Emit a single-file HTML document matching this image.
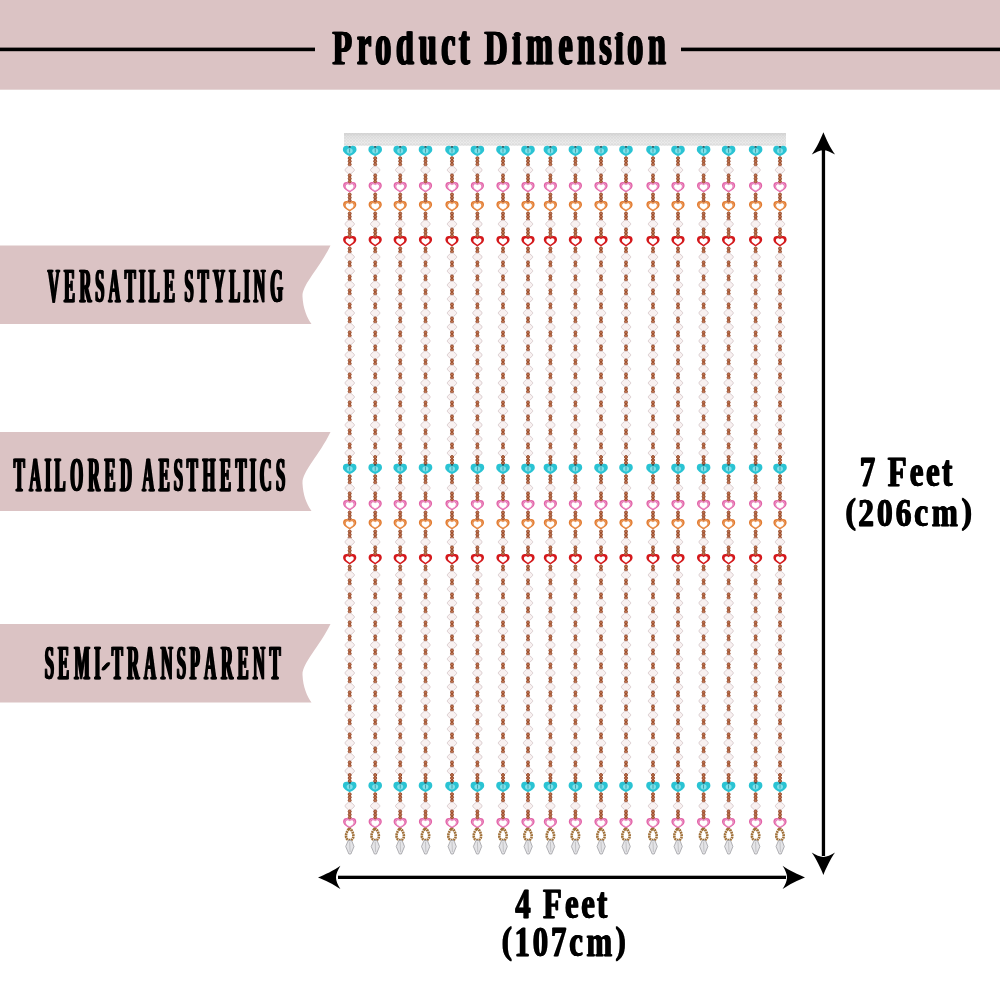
<!DOCTYPE html>
<html><head><meta charset="utf-8"><title>Product Dimension</title>
<style>html,body{margin:0;padding:0;background:#fff;width:1000px;height:1000px;overflow:hidden}svg{display:block;will-change:transform}</style>
</head><body>
<svg width="1000" height="1000" viewBox="0 0 1000 1000">
<rect width="1000" height="1000" fill="#fff"/>
<rect x="0" y="0" width="1000" height="89.7" fill="#dbc3c4"/>
<rect x="0" y="47.6" width="315" height="3.6" fill="#000"/>
<rect x="681" y="47.6" width="319" height="3.6" fill="#000"/>
<clipPath id="tc1"><rect x="312.4" y="31.40" width="372.1" height="62.0"/></clipPath><g clip-path="url(#tc1)"><g fill="#000" font-family="Liberation Serif, serif" font-weight="700" font-size="100" stroke="#000" stroke-width="0.614" stroke-linejoin="miter"><g id="tg1"><text x="0" y="0" text-anchor="middle" transform="matrix(0.3199 0 0 0.4887 341.62 64.00)">P</text><text x="0" y="0" text-anchor="middle" transform="matrix(0.3199 0 0 0.5883 363.26 64.00)">r</text><text x="0" y="0" text-anchor="middle" transform="matrix(0.3199 0 0 0.5883 382.61 64.00)">o</text><text x="0" y="0" text-anchor="middle" transform="matrix(0.3199 0 0 0.5883 404.27 64.00)">d</text><text x="0" y="0" text-anchor="middle" transform="matrix(0.3199 0 0 0.5883 427.09 64.00)">u</text><text x="0" y="0" text-anchor="middle" transform="matrix(0.3199 0 0 0.5883 447.59 64.00)">c</text><text x="0" y="0" text-anchor="middle" transform="matrix(0.3199 0 0 0.5883 463.53 64.00)">t</text><text x="0" y="0" text-anchor="middle" transform="matrix(0.3199 0 0 0.4887 495.42 64.00)">D</text><ellipse cx="516.53" cy="34.60" rx="2.60" ry="2.00"/><text x="0" y="0" text-anchor="middle" transform="matrix(0.3199 0 0 0.5883 515.93 64.00)">ı</text><text x="0" y="0" text-anchor="middle" transform="matrix(0.3199 0 0 0.5883 538.71 64.00)">m</text><text x="0" y="0" text-anchor="middle" transform="matrix(0.3199 0 0 0.5883 564.90 64.00)">e</text><text x="0" y="0" text-anchor="middle" transform="matrix(0.3199 0 0 0.5883 585.41 64.00)">n</text><text x="0" y="0" text-anchor="middle" transform="matrix(0.3199 0 0 0.5883 604.80 64.00)">s</text><ellipse cx="619.07" cy="34.60" rx="2.60" ry="2.00"/><text x="0" y="0" text-anchor="middle" transform="matrix(0.3199 0 0 0.5883 618.47 64.00)">ı</text><text x="0" y="0" text-anchor="middle" transform="matrix(0.3199 0 0 0.5883 634.43 64.00)">o</text><text x="0" y="0" text-anchor="middle" transform="matrix(0.3199 0 0 0.5883 656.09 64.00)">n</text></g><use href="#tg1" x="0.50"/><use href="#tg1" x="1.00"/><use href="#tg1" x="1.50"/></g></g>
<path d="M0,245.4 L330.5,245.4 C319,269.0 302,284.7 302.5,296.5 C303,308.3 307,317.7 311.5,324.0 L0,324.0 Z" fill="#dbc3c4"/>
<clipPath id="tc2"><rect x="27.2" y="269.50" width="274.5" height="62.3"/></clipPath><g clip-path="url(#tc2)"><g fill="#000" font-family="Liberation Serif, serif" font-weight="700" font-size="100" stroke="#000" stroke-width="0.608" stroke-linejoin="miter"><g id="tg2"><text x="0" y="0" text-anchor="middle" transform="matrix(0.1640 0 0 0.4933 52.94 302.40)">V</text><text x="0" y="0" text-anchor="middle" transform="matrix(0.1640 0 0 0.4933 68.76 302.40)">E</text><text x="0" y="0" text-anchor="middle" transform="matrix(0.1640 0 0 0.4933 84.59 302.40)">R</text><text x="0" y="0" text-anchor="middle" transform="matrix(0.1640 0 0 0.4933 99.15 302.40)">S</text><text x="0" y="0" text-anchor="middle" transform="matrix(0.1640 0 0 0.4933 113.71 302.40)">A</text><text x="0" y="0" text-anchor="middle" transform="matrix(0.1640 0 0 0.4933 129.53 302.40)">T</text><text x="0" y="0" text-anchor="middle" transform="matrix(0.1640 0 0 0.4933 141.56 302.40)">I</text><text x="0" y="0" text-anchor="middle" transform="matrix(0.1640 0 0 0.4933 153.59 302.40)">L</text><text x="0" y="0" text-anchor="middle" transform="matrix(0.1640 0 0 0.4933 168.79 302.40)">E</text><text x="0" y="0" text-anchor="middle" transform="matrix(0.1640 0 0 0.4933 188.41 302.40)">S</text><text x="0" y="0" text-anchor="middle" transform="matrix(0.1640 0 0 0.4933 202.35 302.40)">T</text><text x="0" y="0" text-anchor="middle" transform="matrix(0.1640 0 0 0.4933 218.17 302.40)">Y</text><text x="0" y="0" text-anchor="middle" transform="matrix(0.1640 0 0 0.4933 233.99 302.40)">L</text><text x="0" y="0" text-anchor="middle" transform="matrix(0.1640 0 0 0.4933 246.02 302.40)">I</text><text x="0" y="0" text-anchor="middle" transform="matrix(0.1640 0 0 0.4933 258.68 302.40)">N</text><text x="0" y="0" text-anchor="middle" transform="matrix(0.1640 0 0 0.4933 275.77 302.40)">G</text></g><use href="#tg2" x="0.50"/><use href="#tg2" x="1.00"/><use href="#tg2" x="1.50"/></g></g>
<path d="M0,432.0 L330.5,432.0 C319,455.7 302,471.5 302.5,483.4 C303,495.2 307,504.7 311.5,511.0 L0,511.0 Z" fill="#dbc3c4"/>
<clipPath id="tc3"><rect x="-6.8" y="458.10" width="310.5" height="62.3"/></clipPath><g clip-path="url(#tc3)"><g fill="#000" font-family="Liberation Serif, serif" font-weight="700" font-size="100" stroke="#000" stroke-width="0.608" stroke-linejoin="miter"><g id="tg3"><text x="0" y="0" text-anchor="middle" transform="matrix(0.1656 0 0 0.4933 18.46 491.00)">T</text><text x="0" y="0" text-anchor="middle" transform="matrix(0.1656 0 0 0.4933 34.44 491.00)">A</text><text x="0" y="0" text-anchor="middle" transform="matrix(0.1656 0 0 0.4933 47.21 491.00)">I</text><text x="0" y="0" text-anchor="middle" transform="matrix(0.1656 0 0 0.4933 59.36 491.00)">L</text><text x="0" y="0" text-anchor="middle" transform="matrix(0.1656 0 0 0.4933 75.97 491.00)">O</text><text x="0" y="0" text-anchor="middle" transform="matrix(0.1656 0 0 0.4933 93.22 491.00)">R</text><text x="0" y="0" text-anchor="middle" transform="matrix(0.1656 0 0 0.4933 109.19 491.00)">E</text><text x="0" y="0" text-anchor="middle" transform="matrix(0.1656 0 0 0.4933 125.16 491.00)">D</text><text x="0" y="0" text-anchor="middle" transform="matrix(0.1656 0 0 0.4933 147.52 491.00)">A</text><text x="0" y="0" text-anchor="middle" transform="matrix(0.1656 0 0 0.4933 163.49 491.00)">E</text><text x="0" y="0" text-anchor="middle" transform="matrix(0.1656 0 0 0.4933 177.55 491.00)">S</text><text x="0" y="0" text-anchor="middle" transform="matrix(0.1656 0 0 0.4933 191.62 491.00)">T</text><text x="0" y="0" text-anchor="middle" transform="matrix(0.1656 0 0 0.4933 208.23 491.00)">H</text><text x="0" y="0" text-anchor="middle" transform="matrix(0.1656 0 0 0.4933 224.84 491.00)">E</text><text x="0" y="0" text-anchor="middle" transform="matrix(0.1656 0 0 0.4933 240.18 491.00)">T</text><text x="0" y="0" text-anchor="middle" transform="matrix(0.1656 0 0 0.4933 252.32 491.00)">I</text><text x="0" y="0" text-anchor="middle" transform="matrix(0.1656 0 0 0.4933 265.10 491.00)">C</text><text x="0" y="0" text-anchor="middle" transform="matrix(0.1656 0 0 0.4933 279.80 491.00)">S</text></g><use href="#tg3" x="0.50"/><use href="#tg3" x="1.00"/><use href="#tg3" x="1.50"/></g></g>
<path d="M0,624.0 L330.5,624.0 C319,647.5 302,663.2 302.5,675.0 C303,686.8 307,696.2 311.5,702.5 L0,702.5 Z" fill="#dbc3c4"/>
<clipPath id="tc4"><rect x="24.8" y="646.50" width="274.9" height="62.3"/></clipPath><g clip-path="url(#tc4)"><g fill="#000" font-family="Liberation Serif, serif" font-weight="700" font-size="100" stroke="#000" stroke-width="0.608" stroke-linejoin="miter"><g id="tg4"><text x="0" y="0" text-anchor="middle" transform="matrix(0.1663 0 0 0.4933 48.54 679.40)">S</text><text x="0" y="0" text-anchor="middle" transform="matrix(0.1663 0 0 0.4933 62.67 679.40)">E</text><text x="0" y="0" text-anchor="middle" transform="matrix(0.1663 0 0 0.4933 81.27 679.40)">M</text><text x="0" y="0" text-anchor="middle" transform="matrix(0.1663 0 0 0.4933 96.66 679.40)">I</text><path d="M102.4,667.8 L106.6,663.2 L108.4,662.8 L107.6,665.2 L103.6,669.6 L101.8,670 Z"/><text x="0" y="0" text-anchor="middle" transform="matrix(0.1663 0 0 0.4933 116.55 679.40)">T</text><text x="0" y="0" text-anchor="middle" transform="matrix(0.1663 0 0 0.4933 132.60 679.40)">R</text><text x="0" y="0" text-anchor="middle" transform="matrix(0.1663 0 0 0.4933 149.28 679.40)">A</text><text x="0" y="0" text-anchor="middle" transform="matrix(0.1663 0 0 0.4933 165.96 679.40)">N</text><text x="0" y="0" text-anchor="middle" transform="matrix(0.1663 0 0 0.4933 180.72 679.40)">S</text><text x="0" y="0" text-anchor="middle" transform="matrix(0.1663 0 0 0.4933 194.20 679.40)">P</text><text x="0" y="0" text-anchor="middle" transform="matrix(0.1663 0 0 0.4933 209.59 679.40)">A</text><text x="0" y="0" text-anchor="middle" transform="matrix(0.1663 0 0 0.4933 226.28 679.40)">R</text><text x="0" y="0" text-anchor="middle" transform="matrix(0.1663 0 0 0.4933 242.32 679.40)">E</text><text x="0" y="0" text-anchor="middle" transform="matrix(0.1663 0 0 0.4933 258.36 679.40)">N</text><text x="0" y="0" text-anchor="middle" transform="matrix(0.1663 0 0 0.4933 274.41 679.40)">T</text></g><use href="#tg4" x="0.50"/><use href="#tg4" x="1.00"/><use href="#tg4" x="1.50"/></g></g>
<defs><linearGradient id="bar" x1="0" y1="0" x2="0" y2="1"><stop offset="0" stop-color="#d4d4d4"/><stop offset="0.3" stop-color="#e3e3e3"/><stop offset="0.8" stop-color="#ebebeb"/><stop offset="1" stop-color="#e0e0e0"/></linearGradient></defs>
<defs><pattern id="net" width="3" height="3" patternUnits="userSpaceOnUse"><path d="M0,0 L3,3 M3,0 L0,3" stroke="#c8c8c8" stroke-width="0.5" opacity="0.45"/></pattern></defs>
<rect x="344" y="133" width="442" height="12.6" fill="url(#bar)"/>
<rect x="344" y="133" width="442" height="12.6" fill="url(#net)"/>
<defs><g id="cr"><path d="M-1.3,-3.7 L1.3,-3.7 L4.6,-0.7 L4.6,0.7 L1.3,3.7 L-1.3,3.7 L-4.6,0.7 L-4.6,-0.7 Z" fill="#f8f1f1" stroke="#d8cacc" stroke-width="0.9"/></g><g id="hc"><path d="M0,-3.6 C-1.8,-6 -6.8,-5.8 -6.8,-1.6 C-6.8,1.6 -3.2,3.4 0,5.2 C3.2,3.4 6.8,1.6 6.8,-1.6 C6.8,-5.8 1.8,-6 0,-3.6 Z" fill="#2ac3d3"/><ellipse cx="0" cy="-0.2" rx="3" ry="2.6" fill="#7fe0ea"/><rect x="-0.4" y="-2.4" width="0.8" height="4" fill="#3b8f98"/><ellipse cx="0" cy="-4.2" rx="1.3" ry="0.9" fill="#2a4f55"/></g><g id="hp"><path d="M0,-3.4 C-1.5,-5.8 -6.6,-5.9 -6.6,-1.5 C-6.6,1.8 -2.9,3.6 0,5.4 C2.9,3.6 6.6,1.8 6.6,-1.5 C6.6,-5.9 1.5,-5.8 0,-3.4 Z" fill="#e264a8"/><path d="M0,-3.4 C-1.5,-5.8 -6.6,-5.9 -6.6,-1.5 C-6.6,1.8 -2.9,3.6 0,5.4 C2.9,3.6 6.6,1.8 6.6,-1.5 C6.6,-5.9 1.5,-5.8 0,-3.4 Z" transform="scale(0.74)" fill="none" stroke="#f7c4e3" stroke-width="0.7"/><path d="M0,-3.4 C-1.5,-5.8 -6.6,-5.9 -6.6,-1.5 C-6.6,1.8 -2.9,3.6 0,5.4 C2.9,3.6 6.6,1.8 6.6,-1.5 C6.6,-5.9 1.5,-5.8 0,-3.4 Z" transform="translate(0,0.3) scale(0.6)" fill="#fff"/></g><g id="ho"><path d="M0,-3.4 C-1.5,-5.8 -6.6,-5.9 -6.6,-1.5 C-6.6,1.8 -2.9,3.6 0,5.4 C2.9,3.6 6.6,1.8 6.6,-1.5 C6.6,-5.9 1.5,-5.8 0,-3.4 Z" fill="#e27b30"/><path d="M0,-3.4 C-1.5,-5.8 -6.6,-5.9 -6.6,-1.5 C-6.6,1.8 -2.9,3.6 0,5.4 C2.9,3.6 6.6,1.8 6.6,-1.5 C6.6,-5.9 1.5,-5.8 0,-3.4 Z" transform="scale(0.74)" fill="none" stroke="#f6c79c" stroke-width="0.6"/><path d="M0,-3.4 C-1.5,-5.8 -6.6,-5.9 -6.6,-1.5 C-6.6,1.8 -2.9,3.6 0,5.4 C2.9,3.6 6.6,1.8 6.6,-1.5 C6.6,-5.9 1.5,-5.8 0,-3.4 Z" transform="translate(0,0.3) scale(0.6)" fill="#fff"/></g><g id="hr"><path d="M0,-3.4 C-1.5,-5.8 -6.6,-5.9 -6.6,-1.5 C-6.6,1.8 -2.9,3.6 0,5.4 C2.9,3.6 6.6,1.8 6.6,-1.5 C6.6,-5.9 1.5,-5.8 0,-3.4 Z" fill="#d4191c"/><path d="M0,-3.4 C-1.5,-5.8 -6.6,-5.9 -6.6,-1.5 C-6.6,1.8 -2.9,3.6 0,5.4 C2.9,3.6 6.6,1.8 6.6,-1.5 C6.6,-5.9 1.5,-5.8 0,-3.4 Z" transform="translate(0,0.3) scale(0.62)" fill="#fff"/></g><g id="strand"><use href="#hc" y="151.00"/><circle cx="0" cy="158.20" r="1.5" fill="#c27650" stroke="#8e4020" stroke-width="0.9"/><circle cx="0" cy="161.30" r="1.5" fill="#c27650" stroke="#8e4020" stroke-width="0.9"/><circle cx="0" cy="164.40" r="1.5" fill="#c27650" stroke="#8e4020" stroke-width="0.9"/><use href="#cr" y="170.00"/><circle cx="0" cy="175.50" r="1.5" fill="#c27650" stroke="#8e4020" stroke-width="0.9"/><circle cx="0" cy="178.60" r="1.5" fill="#c27650" stroke="#8e4020" stroke-width="0.9"/><circle cx="0" cy="181.70" r="1.5" fill="#c27650" stroke="#8e4020" stroke-width="0.9"/><use href="#hp" y="187.00"/><circle cx="0" cy="194.50" r="1.5" fill="#c27650" stroke="#8e4020" stroke-width="0.9"/><circle cx="0" cy="197.60" r="1.5" fill="#c27650" stroke="#8e4020" stroke-width="0.9"/><circle cx="0" cy="200.70" r="1.5" fill="#c27650" stroke="#8e4020" stroke-width="0.9"/><use href="#ho" y="206.00"/><circle cx="0" cy="213.50" r="1.5" fill="#c27650" stroke="#8e4020" stroke-width="0.9"/><circle cx="0" cy="216.60" r="1.5" fill="#c27650" stroke="#8e4020" stroke-width="0.9"/><circle cx="0" cy="219.70" r="1.5" fill="#c27650" stroke="#8e4020" stroke-width="0.9"/><use href="#cr" y="224.00"/><circle cx="0" cy="229.50" r="1.5" fill="#c27650" stroke="#8e4020" stroke-width="0.9"/><circle cx="0" cy="232.60" r="1.5" fill="#c27650" stroke="#8e4020" stroke-width="0.9"/><circle cx="0" cy="235.70" r="1.5" fill="#c27650" stroke="#8e4020" stroke-width="0.9"/><use href="#hr" y="241.00"/><circle cx="0" cy="248.50" r="1.5" fill="#c27650" stroke="#8e4020" stroke-width="0.9"/><circle cx="0" cy="251.60" r="1.5" fill="#c27650" stroke="#8e4020" stroke-width="0.9"/><use href="#cr" y="257.00"/><circle cx="0" cy="262.50" r="1.5" fill="#c27650" stroke="#8e4020" stroke-width="0.9"/><circle cx="0" cy="265.60" r="1.5" fill="#c27650" stroke="#8e4020" stroke-width="0.9"/><use href="#cr" y="271.00"/><circle cx="0" cy="276.50" r="1.5" fill="#c27650" stroke="#8e4020" stroke-width="0.9"/><circle cx="0" cy="279.60" r="1.5" fill="#c27650" stroke="#8e4020" stroke-width="0.9"/><use href="#cr" y="285.00"/><circle cx="0" cy="290.50" r="1.5" fill="#c27650" stroke="#8e4020" stroke-width="0.9"/><circle cx="0" cy="293.60" r="1.5" fill="#c27650" stroke="#8e4020" stroke-width="0.9"/><use href="#cr" y="299.00"/><circle cx="0" cy="304.50" r="1.5" fill="#c27650" stroke="#8e4020" stroke-width="0.9"/><circle cx="0" cy="307.60" r="1.5" fill="#c27650" stroke="#8e4020" stroke-width="0.9"/><use href="#cr" y="313.00"/><circle cx="0" cy="318.50" r="1.5" fill="#c27650" stroke="#8e4020" stroke-width="0.9"/><circle cx="0" cy="321.60" r="1.5" fill="#c27650" stroke="#8e4020" stroke-width="0.9"/><use href="#cr" y="327.00"/><circle cx="0" cy="332.50" r="1.5" fill="#c27650" stroke="#8e4020" stroke-width="0.9"/><circle cx="0" cy="335.60" r="1.5" fill="#c27650" stroke="#8e4020" stroke-width="0.9"/><use href="#cr" y="341.00"/><circle cx="0" cy="346.50" r="1.5" fill="#c27650" stroke="#8e4020" stroke-width="0.9"/><circle cx="0" cy="349.60" r="1.5" fill="#c27650" stroke="#8e4020" stroke-width="0.9"/><use href="#cr" y="355.00"/><circle cx="0" cy="360.50" r="1.5" fill="#c27650" stroke="#8e4020" stroke-width="0.9"/><circle cx="0" cy="363.60" r="1.5" fill="#c27650" stroke="#8e4020" stroke-width="0.9"/><use href="#cr" y="369.00"/><circle cx="0" cy="374.50" r="1.5" fill="#c27650" stroke="#8e4020" stroke-width="0.9"/><circle cx="0" cy="377.60" r="1.5" fill="#c27650" stroke="#8e4020" stroke-width="0.9"/><use href="#cr" y="383.00"/><circle cx="0" cy="388.50" r="1.5" fill="#c27650" stroke="#8e4020" stroke-width="0.9"/><circle cx="0" cy="391.60" r="1.5" fill="#c27650" stroke="#8e4020" stroke-width="0.9"/><use href="#cr" y="397.00"/><circle cx="0" cy="402.50" r="1.5" fill="#c27650" stroke="#8e4020" stroke-width="0.9"/><circle cx="0" cy="405.60" r="1.5" fill="#c27650" stroke="#8e4020" stroke-width="0.9"/><use href="#cr" y="411.00"/><circle cx="0" cy="416.50" r="1.5" fill="#c27650" stroke="#8e4020" stroke-width="0.9"/><circle cx="0" cy="419.60" r="1.5" fill="#c27650" stroke="#8e4020" stroke-width="0.9"/><use href="#cr" y="425.00"/><circle cx="0" cy="430.50" r="1.5" fill="#c27650" stroke="#8e4020" stroke-width="0.9"/><circle cx="0" cy="433.60" r="1.5" fill="#c27650" stroke="#8e4020" stroke-width="0.9"/><use href="#cr" y="439.00"/><circle cx="0" cy="444.50" r="1.5" fill="#c27650" stroke="#8e4020" stroke-width="0.9"/><circle cx="0" cy="447.60" r="1.5" fill="#c27650" stroke="#8e4020" stroke-width="0.9"/><use href="#cr" y="453.00"/><circle cx="0" cy="457.00" r="1.5" fill="#c27650" stroke="#8e4020" stroke-width="0.9"/><circle cx="0" cy="460.10" r="1.5" fill="#c27650" stroke="#8e4020" stroke-width="0.9"/><circle cx="0" cy="463.20" r="1.5" fill="#c27650" stroke="#8e4020" stroke-width="0.9"/><use href="#hc" y="469.00"/><circle cx="0" cy="476.20" r="1.5" fill="#c27650" stroke="#8e4020" stroke-width="0.9"/><circle cx="0" cy="479.30" r="1.5" fill="#c27650" stroke="#8e4020" stroke-width="0.9"/><circle cx="0" cy="482.40" r="1.5" fill="#c27650" stroke="#8e4020" stroke-width="0.9"/><use href="#cr" y="488.00"/><circle cx="0" cy="493.50" r="1.5" fill="#c27650" stroke="#8e4020" stroke-width="0.9"/><circle cx="0" cy="496.60" r="1.5" fill="#c27650" stroke="#8e4020" stroke-width="0.9"/><circle cx="0" cy="499.70" r="1.5" fill="#c27650" stroke="#8e4020" stroke-width="0.9"/><use href="#hp" y="505.00"/><circle cx="0" cy="512.50" r="1.5" fill="#c27650" stroke="#8e4020" stroke-width="0.9"/><circle cx="0" cy="515.60" r="1.5" fill="#c27650" stroke="#8e4020" stroke-width="0.9"/><circle cx="0" cy="518.70" r="1.5" fill="#c27650" stroke="#8e4020" stroke-width="0.9"/><use href="#ho" y="524.00"/><circle cx="0" cy="531.50" r="1.5" fill="#c27650" stroke="#8e4020" stroke-width="0.9"/><circle cx="0" cy="534.60" r="1.5" fill="#c27650" stroke="#8e4020" stroke-width="0.9"/><circle cx="0" cy="537.70" r="1.5" fill="#c27650" stroke="#8e4020" stroke-width="0.9"/><use href="#cr" y="542.00"/><circle cx="0" cy="547.50" r="1.5" fill="#c27650" stroke="#8e4020" stroke-width="0.9"/><circle cx="0" cy="550.60" r="1.5" fill="#c27650" stroke="#8e4020" stroke-width="0.9"/><circle cx="0" cy="553.70" r="1.5" fill="#c27650" stroke="#8e4020" stroke-width="0.9"/><use href="#hr" y="559.00"/><circle cx="0" cy="566.50" r="1.5" fill="#c27650" stroke="#8e4020" stroke-width="0.9"/><circle cx="0" cy="569.60" r="1.5" fill="#c27650" stroke="#8e4020" stroke-width="0.9"/><use href="#cr" y="575.00"/><circle cx="0" cy="580.50" r="1.5" fill="#c27650" stroke="#8e4020" stroke-width="0.9"/><circle cx="0" cy="583.60" r="1.5" fill="#c27650" stroke="#8e4020" stroke-width="0.9"/><use href="#cr" y="589.00"/><circle cx="0" cy="594.50" r="1.5" fill="#c27650" stroke="#8e4020" stroke-width="0.9"/><circle cx="0" cy="597.60" r="1.5" fill="#c27650" stroke="#8e4020" stroke-width="0.9"/><use href="#cr" y="603.00"/><circle cx="0" cy="608.50" r="1.5" fill="#c27650" stroke="#8e4020" stroke-width="0.9"/><circle cx="0" cy="611.60" r="1.5" fill="#c27650" stroke="#8e4020" stroke-width="0.9"/><use href="#cr" y="617.00"/><circle cx="0" cy="622.50" r="1.5" fill="#c27650" stroke="#8e4020" stroke-width="0.9"/><circle cx="0" cy="625.60" r="1.5" fill="#c27650" stroke="#8e4020" stroke-width="0.9"/><use href="#cr" y="631.00"/><circle cx="0" cy="636.50" r="1.5" fill="#c27650" stroke="#8e4020" stroke-width="0.9"/><circle cx="0" cy="639.60" r="1.5" fill="#c27650" stroke="#8e4020" stroke-width="0.9"/><use href="#cr" y="645.00"/><circle cx="0" cy="650.50" r="1.5" fill="#c27650" stroke="#8e4020" stroke-width="0.9"/><circle cx="0" cy="653.60" r="1.5" fill="#c27650" stroke="#8e4020" stroke-width="0.9"/><use href="#cr" y="659.00"/><circle cx="0" cy="664.50" r="1.5" fill="#c27650" stroke="#8e4020" stroke-width="0.9"/><circle cx="0" cy="667.60" r="1.5" fill="#c27650" stroke="#8e4020" stroke-width="0.9"/><use href="#cr" y="673.00"/><circle cx="0" cy="678.50" r="1.5" fill="#c27650" stroke="#8e4020" stroke-width="0.9"/><circle cx="0" cy="681.60" r="1.5" fill="#c27650" stroke="#8e4020" stroke-width="0.9"/><use href="#cr" y="687.00"/><circle cx="0" cy="692.50" r="1.5" fill="#c27650" stroke="#8e4020" stroke-width="0.9"/><circle cx="0" cy="695.60" r="1.5" fill="#c27650" stroke="#8e4020" stroke-width="0.9"/><use href="#cr" y="701.00"/><circle cx="0" cy="706.50" r="1.5" fill="#c27650" stroke="#8e4020" stroke-width="0.9"/><circle cx="0" cy="709.60" r="1.5" fill="#c27650" stroke="#8e4020" stroke-width="0.9"/><use href="#cr" y="715.00"/><circle cx="0" cy="720.50" r="1.5" fill="#c27650" stroke="#8e4020" stroke-width="0.9"/><circle cx="0" cy="723.60" r="1.5" fill="#c27650" stroke="#8e4020" stroke-width="0.9"/><use href="#cr" y="729.00"/><circle cx="0" cy="734.50" r="1.5" fill="#c27650" stroke="#8e4020" stroke-width="0.9"/><circle cx="0" cy="737.60" r="1.5" fill="#c27650" stroke="#8e4020" stroke-width="0.9"/><use href="#cr" y="743.00"/><circle cx="0" cy="748.50" r="1.5" fill="#c27650" stroke="#8e4020" stroke-width="0.9"/><circle cx="0" cy="751.60" r="1.5" fill="#c27650" stroke="#8e4020" stroke-width="0.9"/><use href="#cr" y="757.00"/><circle cx="0" cy="762.50" r="1.5" fill="#c27650" stroke="#8e4020" stroke-width="0.9"/><circle cx="0" cy="765.60" r="1.5" fill="#c27650" stroke="#8e4020" stroke-width="0.9"/><use href="#cr" y="771.00"/><circle cx="0" cy="775.00" r="1.5" fill="#c27650" stroke="#8e4020" stroke-width="0.9"/><circle cx="0" cy="778.10" r="1.5" fill="#c27650" stroke="#8e4020" stroke-width="0.9"/><circle cx="0" cy="781.20" r="1.5" fill="#c27650" stroke="#8e4020" stroke-width="0.9"/><use href="#hc" y="787.00"/><circle cx="0" cy="794.20" r="1.5" fill="#c27650" stroke="#8e4020" stroke-width="0.9"/><circle cx="0" cy="797.30" r="1.5" fill="#c27650" stroke="#8e4020" stroke-width="0.9"/><circle cx="0" cy="800.40" r="1.5" fill="#c27650" stroke="#8e4020" stroke-width="0.9"/><use href="#cr" y="806.00"/><circle cx="0" cy="811.50" r="1.5" fill="#c27650" stroke="#8e4020" stroke-width="0.9"/><circle cx="0" cy="814.60" r="1.5" fill="#c27650" stroke="#8e4020" stroke-width="0.9"/><circle cx="0" cy="817.70" r="1.5" fill="#c27650" stroke="#8e4020" stroke-width="0.9"/><use href="#hp" y="823.00"/><path d="M-0.8,829.00 C-4.6,833.00 -4.6,839.50 -1,840.00 L1,840.00 C4.6,839.50 4.6,833.00 0.8,829.00 Z" fill="none" stroke="#a07038" stroke-width="2.6" stroke-dasharray="1.9 0.6"/><path d="M-1.5,840.60 L2,840.60 L4.3,846.50 L1.2,854.00 L-0.8,854.00 L-4,846.50 Z" fill="#e4e4e7" stroke="#9e9ea3" stroke-width="0.8"/><path d="M0,842.00 L0.4,852.00" stroke="#b4b4b8" stroke-width="0.7"/></g></defs>
<use href="#strand" x="349.70"/>
<use href="#strand" x="375.20"/>
<use href="#strand" x="400.20"/>
<use href="#strand" x="425.50"/>
<use href="#strand" x="452.00"/>
<use href="#strand" x="477.40"/>
<use href="#strand" x="503.00"/>
<use href="#strand" x="528.00"/>
<use href="#strand" x="550.40"/>
<use href="#strand" x="575.40"/>
<use href="#strand" x="601.00"/>
<use href="#strand" x="626.00"/>
<use href="#strand" x="653.00"/>
<use href="#strand" x="678.00"/>
<use href="#strand" x="703.60"/>
<use href="#strand" x="728.60"/>
<use href="#strand" x="755.60"/>
<use href="#strand" x="780.00"/>
<rect x="821.8" y="148" width="3.3" height="708" fill="#000"/>
<path d="M0,0 C-2.6,6.5 -7,16 -11.6,22.4 C-7.5,19.8 -3,17.9 0,18 C3,17.9 7.5,19.8 11.7,22.4 C7,16 2.6,6.5 0,0 Z" transform="translate(823.40,132.20) rotate(0.00)" fill="#000"/>
<path d="M0,0 C-2.6,6.5 -7,16 -11.6,22.4 C-7.5,19.8 -3,17.9 0,18 C3,17.9 7.5,19.8 11.7,22.4 C7,16 2.6,6.5 0,0 Z" transform="translate(823.40,875.00) rotate(180.00)" fill="#000"/>
<rect x="338" y="875.7" width="448" height="3.3" fill="#000"/>
<path d="M0,0 C-2.6,6.5 -7,16 -11.6,22.4 C-7.5,19.8 -3,17.9 0,18 C3,17.9 7.5,19.8 11.7,22.4 C7,16 2.6,6.5 0,0 Z" transform="translate(318.00,877.40) rotate(270.00)" fill="#000"/>
<path d="M0,0 C-2.6,6.5 -7,16 -11.6,22.4 C-7.5,19.8 -3,17.9 0,18 C3,17.9 7.5,19.8 11.7,22.4 C7,16 2.6,6.5 0,0 Z" transform="translate(805.00,877.40) rotate(90.00)" fill="#000"/>
<g><g fill="#000" font-family="Liberation Serif, serif" font-weight="700" font-size="100" stroke="#000" stroke-width="0.720" stroke-linejoin="miter"><g id="tg5"><text x="0" y="0" text-anchor="middle" transform="matrix(0.3093 0 0 0.4169 866.97 485.70)">7</text><text x="0" y="0" text-anchor="middle" transform="matrix(0.3093 0 0 0.4169 896.62 485.70)">F</text><text x="0" y="0" text-anchor="middle" transform="matrix(0.3093 0 0 0.4423 916.04 485.70)">e</text><text x="0" y="0" text-anchor="middle" transform="matrix(0.3093 0 0 0.4423 932.38 485.70)">e</text><text x="0" y="0" text-anchor="middle" transform="matrix(0.3093 0 0 0.4423 946.69 485.70)">t</text></g><use href="#tg5" x="0.50"/><use href="#tg5" x="1.00"/></g></g>
<g><g fill="#000" font-family="Liberation Serif, serif" font-weight="700" font-size="100" stroke="#000" stroke-width="0.738" stroke-linejoin="miter"><g id="tg6"><text x="0" y="0" text-anchor="middle" transform="matrix(0.3134 0 0 0.3579 850.14 523.47)">(</text><text x="0" y="0" text-anchor="middle" transform="matrix(0.3134 0 0 0.4062 865.68 526.30)">2</text><text x="0" y="0" text-anchor="middle" transform="matrix(0.3134 0 0 0.4062 884.33 526.30)">0</text><text x="0" y="0" text-anchor="middle" transform="matrix(0.3134 0 0 0.4062 902.99 526.30)">6</text><text x="0" y="0" text-anchor="middle" transform="matrix(0.3134 0 0 0.4270 920.59 526.30)">c</text><text x="0" y="0" text-anchor="middle" transform="matrix(0.3134 0 0 0.4270 944.41 526.30)">m</text><text x="0" y="0" text-anchor="middle" transform="matrix(0.3134 0 0 0.3579 966.16 523.47)">)</text></g><use href="#tg6" x="0.50"/><use href="#tg6" x="1.00"/></g></g>
<g><g fill="#000" font-family="Liberation Serif, serif" font-weight="700" font-size="100" stroke="#000" stroke-width="0.709" stroke-linejoin="miter"><g id="tg7"><text x="0" y="0" text-anchor="middle" transform="matrix(0.3075 0 0 0.4230 522.47 918.20)">4</text><text x="0" y="0" text-anchor="middle" transform="matrix(0.3075 0 0 0.4230 551.95 918.20)">F</text><text x="0" y="0" text-anchor="middle" transform="matrix(0.3075 0 0 0.4401 571.25 918.20)">e</text><text x="0" y="0" text-anchor="middle" transform="matrix(0.3075 0 0 0.4401 587.50 918.20)">e</text><text x="0" y="0" text-anchor="middle" transform="matrix(0.3075 0 0 0.4401 601.72 918.20)">t</text></g><use href="#tg7" x="0.50"/><use href="#tg7" x="1.00"/></g></g>
<g><g fill="#000" font-family="Liberation Serif, serif" font-weight="700" font-size="100" stroke="#000" stroke-width="0.709" stroke-linejoin="miter"><g id="tg8"><text x="0" y="0" text-anchor="middle" transform="matrix(0.3073 0 0 0.3727 506.47 952.75)">(</text><text x="0" y="0" text-anchor="middle" transform="matrix(0.3073 0 0 0.4230 521.70 955.70)">1</text><text x="0" y="0" text-anchor="middle" transform="matrix(0.3073 0 0 0.4230 539.99 955.70)">0</text><text x="0" y="0" text-anchor="middle" transform="matrix(0.3073 0 0 0.4230 558.29 955.70)">7</text><text x="0" y="0" text-anchor="middle" transform="matrix(0.3073 0 0 0.4401 575.55 955.70)">c</text><text x="0" y="0" text-anchor="middle" transform="matrix(0.3073 0 0 0.4401 598.91 955.70)">m</text><text x="0" y="0" text-anchor="middle" transform="matrix(0.3073 0 0 0.3727 620.23 952.75)">)</text></g><use href="#tg8" x="0.50"/><use href="#tg8" x="1.00"/></g></g>
</svg>
</body></html>
